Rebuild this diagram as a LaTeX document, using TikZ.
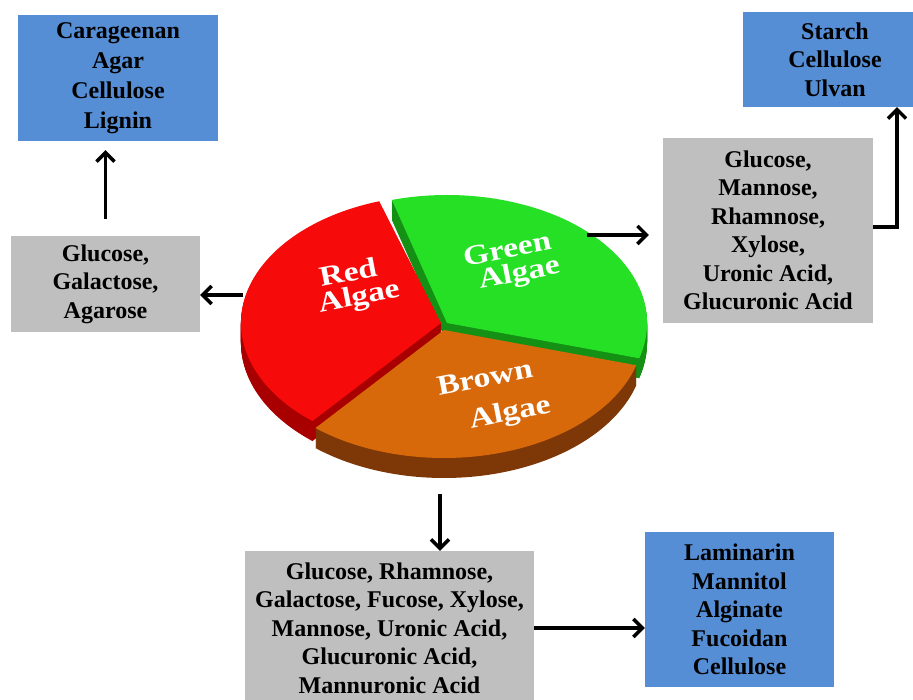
\documentclass[tikz,border=0pt]{standalone}
\usepackage{fontspec}
\usepackage{pdfrender}
\setmainfont{Liberation Serif}
\usetikzlibrary{arrows.meta,calc}
\definecolor{boxblue}{HTML}{558ED5}
\definecolor{boxgray}{HTML}{BFBFBF}
\definecolor{redtop}{HTML}{F60A0A}
\definecolor{redside}{HTML}{A80000}
\definecolor{greentop}{HTML}{26E026}
\definecolor{greenside}{HTML}{149014}
\definecolor{browntop}{HTML}{D8690B}
\definecolor{brownside}{HTML}{7E3706}
\definecolor{pieoutline}{HTML}{505050}
\newcommand\pieword[1]{\textpdfrender{TextRenderingMode=FillStroke,LineWidth=0.8,StrokeColor=pieoutline}{#1}}
\newcommand\slicesweep[5]{% ox, oy, start, end, colour
  \foreach \d in {20,19,...,1}{\fill[#5] (#1,#2-\d) -- ++(#3:200 and 128) arc[start angle=#3,end angle=#4,x radius=200pt,y radius=128pt] -- cycle;}}
\newcommand\slicetop[5]{%
  \fill[#5] (#1,#2) -- ++(#3:200 and 128) arc[start angle=#3,end angle=#4,x radius=200pt,y radius=128pt] -- cycle;}
\tikzset{
  txtbox/.style={inner sep=0pt, align=center, text=black,
    font=\fontsize{24}{28.5}\selectfont\bfseries},
  bluebox/.style={txtbox, fill=boxblue},
  graybox/.style={txtbox, fill=boxgray},
  arr/.style={line width=3.4pt, -{Straight Barb[length=9pt,width=18pt]}},
  pietext/.style={inner sep=0pt, text=white, align=center, rotate=11, xscale=1.2,
    font=\fontsize{28}{25}\selectfont\bfseries}
}
\begin{document}
\begin{tikzpicture}[x=1pt,y=1pt]
\useasboundingbox (0,0) rectangle (913,699);
\fill[white] (0,0) rectangle (913,699);

% boxes
\node[bluebox, minimum width=200pt, minimum height=126pt, font=\fontsize{24}{30}\selectfont\bfseries] (blueTL) at (118,621) {Carageenan\\Agar\\Cellulose\\Lignin};
\node[graybox, minimum width=189pt, minimum height=96pt] (grayL) at (105.5,415) {Glucose,\\Galactose,\\Agarose};
\node[bluebox, minimum width=184pt, minimum height=95pt] (blueTR) at (835,639.5) {Starch\\Cellulose\\Ulvan};
\node[graybox, minimum width=210pt, minimum height=185pt] (grayR) at (768,468.5) {Glucose,\\Mannose,\\Rhamnose,\\Xylose,\\Uronic Acid,\\Glucuronic Acid};
\node[graybox, minimum width=289pt, minimum height=154pt] (grayB) at (389.5,71) {Glucose, Rhamnose,\\Galactose, Fucose, Xylose,\\Mannose, Uronic Acid,\\Glucuronic Acid,\\Mannuronic Acid};
\node[bluebox, minimum width=189pt, minimum height=155pt] (blueB) at (739.5,89.5) {Laminarin\\Mannitol\\Alginate\\Fucoidan\\Cellulose};

% pie
\begin{scope}[shift={(443,374)}]
  \slicesweep{4}{2}{-16}{106}{greenside}
  \slicesweep{-2}{2}{108}{230}{redside}
  \slicesweep{1}{-5}{230}{344}{brownside}
  \slicetop{4}{2}{-16}{106}{greentop}
  \slicetop{-2}{2}{108}{230}{redtop}
  \slicetop{1}{-5}{230}{344}{browntop}
\end{scope}

\node[pietext] (redlabel) at (351,412) {\pieword{Red}\\\hspace*{10pt}\pieword{Algae}};
\node[pietext] (greenlabel) at (510,435) {\pieword{Green}\\\hspace*{12pt}\pieword{Algae}};
\node[pietext, font=\fontsize{28}{38}\selectfont\bfseries] (brownlabel) at (489,300) {\pieword{Brown}\\\hspace*{30pt}\pieword{Algae}};

% connector anchors
\coordinate (pLeft) at (243,404);
\coordinate (pRight) at (587,464);
\coordinate (pDown) at (440,205);
\coordinate (elbow) at (897,472);

% connectors
\draw[arr] (pLeft) -- (pLeft -| grayL.east);
\draw[arr] ([yshift=17pt]grayL.north) -- ([yshift=-9pt]grayL.north |- blueTL.south);
\draw[arr, shorten >=14pt] (pRight) -- (pRight -| grayR.west);
\draw[arr] (grayR.east |- elbow) -- (elbow) -- (elbow |- blueTR.south);
\draw[arr] (pDown) -- (pDown |- grayB.north);
\draw[arr] (grayB.east) -- (grayB.east -| blueB.west);
\end{tikzpicture}
\end{document}
